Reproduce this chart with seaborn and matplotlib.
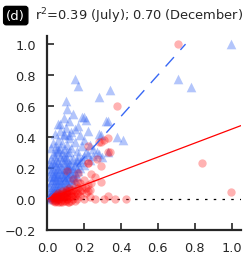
import matplotlib
matplotlib.use('Agg')
import matplotlib.pyplot as plt
import numpy as np
import pandas as pd
import seaborn as sns

sns.set_style('ticks')
plt.rcParams['font.family'] = ['DejaVu Sans']

# July (blue triangles)
blue_x = [0.01, 0.02, 0.03, 0.04, 0.05, 0.06, 0.07, 0.08, 0.09, 0.10, 0.11, 0.12,
          0.02, 0.03, 0.04, 0.05, 0.06, 0.07, 0.08, 0.01, 0.015, 0.025, 0.035, 0.045,
          0.055, 0.065, 0.075, 0.085, 0.095, 0.105, 0.115, 0.13, 0.14, 0.15, 0.01, 0.02,
          0.03, 0.04, 0.05, 0.06, 0.07, 0.08, 0.09, 0.10, 0.11, 0.12, 0.13, 0.14,
          0.16, 0.01, 0.02, 0.03, 0.04, 0.05, 0.06, 0.07, 0.08, 0.09, 0.10, 0.12,
          0.14, 0.17, 0.18, 0.02, 0.03, 0.05, 0.06, 0.08, 0.09, 0.11, 0.12, 0.13,
          0.15, 0.16, 0.19, 0.21, 0.04, 0.07, 0.10, 0.13, 0.15, 0.18, 0.20, 0.23,
          0.25, 0.06, 0.09, 0.12, 0.14, 0.17, 0.20, 0.21, 0.22, 0.10, 0.11, 0.15,
          0.17, 0.28, 0.34, 0.33, 0.38, 0.41, 0.29, 0.30, 0.71, 0.78, 0.995, 0.07,
          0.19, 0.32, 0.28, 0.09, 0.12, 0.06, 0.33, 0.28, 0.22, 0.11, 0.16, 0.20,
          0.005, 0.015, 0.025, 0.035, 0.045, 0.055, 0.065, 0.02, 0.04, 0.06,
          0.01, 0.02, 0.03, 0.04, 0.05, 0.06, 0.07, 0.08, 0.09, 0.10, 0.11, 0.12,
          0.13, 0.14, 0.15, 0.16, 0.17, 0.01, 0.02, 0.03, 0.04, 0.05, 0.06, 0.07,
          0.08, 0.09, 0.10, 0.11, 0.12, 0.13, 0.15, 0.16, 0.03, 0.05, 0.07, 0.09,
          0.11, 0.02, 0.04, 0.06, 0.08, 0.10, 0.12, 0.14, 0.18, 0.19, 0.20, 0.23,
          0.25, 0.27]
blue_y = [0.01, 0.03, 0.02, 0.05, 0.03, 0.06, 0.04, 0.07, 0.05, 0.08, 0.06, 0.09,
          0.06, 0.08, 0.10, 0.07, 0.10, 0.09, 0.11, 0.04, 0.09, 0.12, 0.14, 0.12,
          0.15, 0.13, 0.16, 0.14, 0.12, 0.15, 0.13, 0.12, 0.10, 0.13, 0.15, 0.18,
          0.20, 0.17, 0.21, 0.19, 0.22, 0.20, 0.24, 0.19, 0.22, 0.18, 0.21, 0.17,
          0.20, 0.23, 0.26, 0.24, 0.28, 0.25, 0.30, 0.27, 0.29, 0.32, 0.27, 0.30,
          0.26, 0.28, 0.24, 0.33, 0.36, 0.34, 0.38, 0.36, 0.41, 0.35, 0.39, 0.33,
          0.37, 0.31, 0.34, 0.30, 0.42, 0.44, 0.46, 0.43, 0.45, 0.41, 0.38, 0.35,
          0.32, 0.48, 0.52, 0.50, 0.55, 0.47, 0.53, 0.51, 0.44, 0.63, 0.58, 0.77,
          0.73, 0.66, 0.70, 0.50, 0.40, 0.38, 0.41, 0.27, 0.77, 0.72, 1.00, 0.48,
          0.53, 0.50, 0.42, 0.42, 0.41, 0.32, 0.30, 0.29, 0.29, 0.19, 0.24, 0.22,
          0.00, 0.02, 0.01, 0.04, 0.02, 0.05, 0.03, 0.01, 0.00, 0.02,
          0.08, 0.11, 0.05, 0.08, 0.12, 0.08, 0.12, 0.09, 0.14, 0.11, 0.10, 0.14,
          0.16, 0.14, 0.17, 0.15, 0.18, 0.19, 0.22, 0.17, 0.23, 0.18, 0.24, 0.19,
          0.25, 0.18, 0.23, 0.26, 0.22, 0.25, 0.22, 0.25, 0.29, 0.31, 0.33, 0.28,
          0.30, 0.14, 0.15, 0.16, 0.16, 0.17, 0.20, 0.20, 0.20, 0.26, 0.28, 0.25,
          0.28, 0.30]

# December (red circles)
red_x = [0.02, 0.03, 0.04, 0.05, 0.06, 0.07, 0.08, 0.09, 0.10, 0.11, 0.12, 0.13,
         0.14, 0.15, 0.16, 0.04, 0.06, 0.08, 0.10, 0.12, 0.05, 0.07, 0.09, 0.11,
         0.13, 0.03, 0.06, 0.08, 0.10, 0.12, 0.14, 0.15, 0.17, 0.18, 0.20, 0.22,
         0.16, 0.19, 0.21, 0.18, 0.20, 0.23, 0.26, 0.31, 0.33, 0.37, 0.43, 0.22,
         0.11, 0.27, 0.22, 0.29, 0.31, 0.33, 0.29, 0.33, 0.38, 0.71, 0.84, 0.995,
         0.24, 0.26, 0.14, 0.17, 0.22, 0.29, 0.22, 0.34, 0.28, 0.035, 0.055, 0.075,
         0.095, 0.115, 0.135, 0.025, 0.045, 0.065, 0.085, 0.105,
         0.03, 0.04, 0.05, 0.06, 0.07, 0.08, 0.09, 0.10, 0.11, 0.12, 0.13, 0.14,
         0.15, 0.16, 0.17, 0.18, 0.19, 0.21, 0.23, 0.24, 0.13, 0.15, 0.11, 0.09,
         0.07]
red_y = [0.00, -0.01, 0.01, 0.00, -0.02, 0.01, 0.00, -0.01, 0.02, 0.00, 0.01, -0.01,
         0.00, 0.02, 0.00, 0.03, 0.02, 0.03, 0.04, 0.05, -0.01, -0.02, 0.02, 0.03,
         0.04, 0.02, 0.04, 0.05, 0.06, 0.07, 0.06, 0.08, 0.07, 0.10, 0.12, 0.09,
         0.11, 0.06, 0.04, 0.02, 0.00, 0.01, 0.00, 0.00, 0.02, 0.00, 0.00, 0.23,
         0.18, 0.26, 0.34, 0.37, 0.38, 0.30, 0.21, 0.39, 0.60, 1.00, 0.23, 0.045,
         0.16, 0.14, 0.13, 0.17, 0.05, 0.11, 0.23, 0.30, 0.37, 0.00, 0.01, -0.01,
         0.01, -0.02, 0.02, 0.01, -0.01, 0.00, 0.02, 0.00,
         0.01, -0.02, 0.02, 0.00, 0.03, -0.02, 0.01, -0.01, 0.02, -0.02, 0.02, 0.03,
         -0.01, 0.04, 0.03, 0.05, 0.08, 0.07, 0.06, 0.10, 0.06, 0.05, 0.05, 0.04,
         0.02]

# linear fits: slope, intercept, x extent
blue_fit = [1.33, 0.0, 0.75]
red_fit = [0.45, 0.0, 1.05]

xticks = [0.0, 0.2, 0.4, 0.6, 0.8, 1.0]
yticks = [-0.2, 0.0, 0.2, 0.4, 0.6, 0.8, 1.0]
panel = '(d)'
title = 'r$^2$=0.39 (July); 0.70 (December)'

blue_col = '#3868f5'

fig = plt.figure(figsize=(2.52, 2.55), dpi=100)
ax = fig.add_axes([0.187, 0.094, 0.769, 0.761])

df_b = pd.DataFrame({'x': blue_x, 'y': blue_y})
df_r = pd.DataFrame({'x': red_x, 'y': red_y})

sns.scatterplot(data=df_b, x='x', y='y', marker='^', s=48, color=blue_col,
                alpha=0.38, linewidth=0, ax=ax, zorder=2)
sns.scatterplot(data=df_r, x='x', y='y', marker='o', s=36, color='red',
                alpha=0.3, linewidth=0, ax=ax, zorder=3)

xb = np.array([0.0, blue_fit[2]])
ax.plot(xb, blue_fit[0] * xb + blue_fit[1], color=blue_col, lw=1,
        dashes=(9, 7), zorder=4)
xr = np.array([0.0, red_fit[2]])
ax.plot(xr, red_fit[0] * xr + red_fit[1], color='red', lw=0.9, zorder=4)
ax.axhline(0, color='black', lw=0.9, dashes=(2, 5), zorder=1)

ax.set_xlim(0, 1.05)
ax.set_ylim(-0.2, 1.05)
ax.set_xticks(xticks)
ax.set_yticks(yticks)
ax.set_xticklabels([f'{t:.1f}' for t in xticks])
ax.set_yticklabels([f'{t:.1f}'.replace('-', '\u2212') for t in yticks])
ax.set_xlabel('')
ax.set_ylabel('')
ax.tick_params(direction='in', length=5, width=1.2, pad=8, labelsize=9.3)
sns.despine(ax=ax)
for s in ['left', 'bottom']:
    ax.spines[s].set_linewidth(1.6)

fig.text(0.025, 0.935, panel, color='white', fontsize=9.6, va='center',
         bbox=dict(boxstyle='round,pad=0.2', fc='black', ec='black'))
fig.text(0.140, 0.935, title, fontsize=9.4, va='center')

fig.savefig('out.png', dpi=100)
